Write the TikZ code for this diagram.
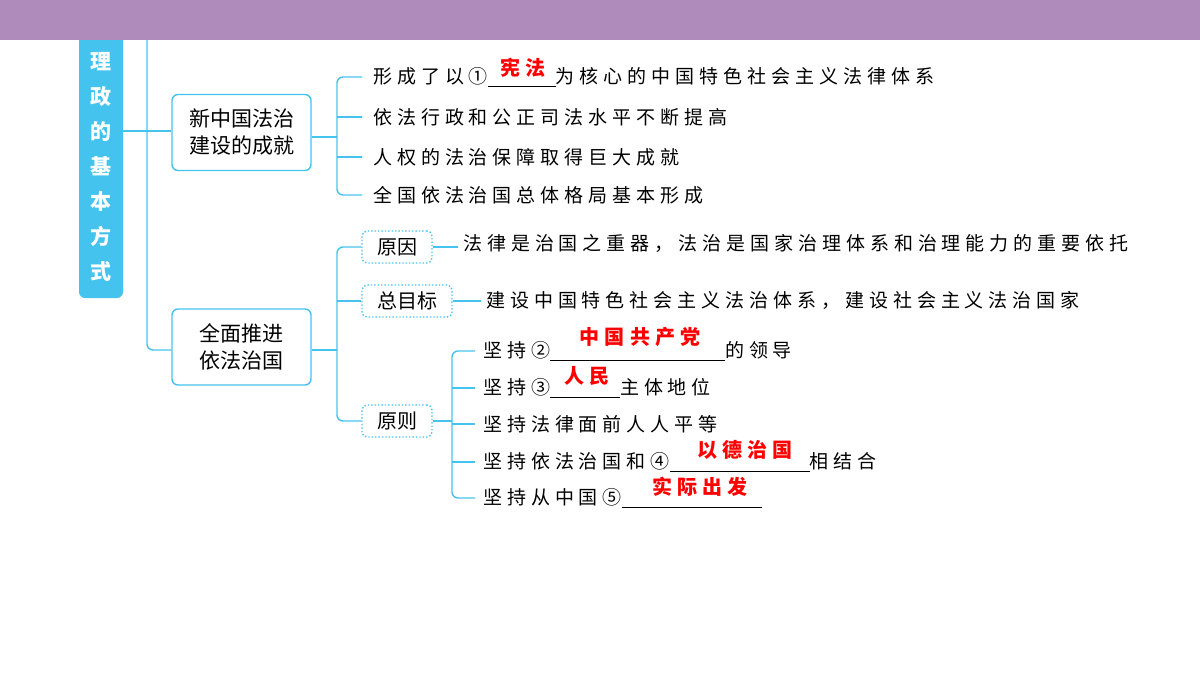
\documentclass[tikz,border=0pt]{standalone}
\usepackage{fontspec}
\setmainfont{Noto Sans CJK SC}
\newfontfamily\leaffont[LetterSpace=26]{Noto Sans CJK SC}
\usetikzlibrary{positioning}
\definecolor{lb}{HTML}{45C3EF}
\definecolor{pur}{HTML}{AE8BBB}
\tikzset{
 conn/.style={draw=lb,line width=1.4pt,rounded corners=6pt},
 mainbox/.style={draw=lb,line width=1.4pt,rounded corners=6pt,fill=white,font=\fontsize{21}{27}\selectfont,align=center,minimum width=139pt,minimum height=76pt,inner sep=0pt},
 dotbox/.style={draw=lb,line width=1.4pt,dotted,rounded corners=5pt,font=\fontsize{20}{22}\selectfont,inner sep=0pt,minimum height=32pt},
 leaf/.style={anchor=west,font=\fontsize{19}{22}\leaffont,inner sep=0pt},
 ans/.style={text=red,font=\fontsize{20}{22}\bfseries\leaffont,inner sep=0pt},
}
\newcommand{\blank}[1]{\rule[-4pt]{#1pt}{0.7pt}}
\begin{document}
\begin{tikzpicture}[x=1pt,y=-1pt]
\useasboundingbox (0,0) rectangle (1200,675);
\fill[lb,rounded corners=6pt] (79,30) rectangle (123,298);
\fill[pur] (0,0) rectangle (1200,40);
\node[text=white,font=\fontsize{21}{35}\bfseries\selectfont,align=center,inner sep=0pt] (title) at (101,167) {理\\政\\的\\基\\本\\方\\式};
% main trunk
\node[mainbox] (b1) at (241.5,132.5) {新中国法治\\建设的成就};
\node[mainbox] (b2) at (241.5,347) {全面推进\\依法治国};
\draw[conn] (147,40) -- (147,350) -- (b2.west|-0,350);
\draw[conn] (123,131) -- (b1.west|-0,131);
% b1 leaves
\node[leaf] (l1) at (373,77) {形成了以①\blank{68}为核心的中国特色社会主义法律体系};
\node[leaf] (l2) at (373,117) {依法行政和公正司法水平不断提高};
\node[leaf] (l3) at (373,157) {人权的法治保障取得巨大成就};
\node[leaf] (l4) at (373,195) {全国依法治国总体格局基本形成};
\node[ans] (a1) at (523,68) {宪法};
\draw[conn] (b1.east|-0,137) -- (337,137);
\draw[conn] (362,77) -- (337,77) -- (337,195) -- (362,195);
\draw[conn] (337,117) -- (362,117);
\draw[conn] (337,157) -- (362,157);
% b2 branches
\node[dotbox,minimum width=70pt] (r1) at (397,247) {原因};
\node[dotbox,minimum width=90pt] (r2) at (407,301) {总目标};
\node[dotbox,minimum width=70pt] (r3) at (397,421) {原则};
\draw[conn] (b2.east|-0,350) -- (337,350);
\draw[conn] (r1.west) -- (337,247) -- (337,421) -- (r3.west);
\draw[conn] (337,301) -- (r2.west);
\node[leaf] (t1) at (463,243) {法律是治国之重器，法治是国家治理体系和治理能力的重要依托};
\node[leaf] (t2) at (486,300) {建设中国特色社会主义法治体系，建设社会主义法治国家};
\draw[conn] (r1.east) -- ([xshift=-5pt]t1.west|-r1.east);
\draw[conn] (r2.east) -- ([xshift=-5pt]t2.west|-r2.east);
% principles
\node[leaf] (p1) at (483,351) {坚持②\blank{175}的领导};
\node[leaf] (p2) at (483,388) {坚持③\blank{70}主体地位};
\node[leaf] (p3) at (483,424) {坚持法律面前人人平等};
\node[leaf] (p4) at (483,462) {坚持依法治国和④\blank{140}相结合};
\node[leaf] (p5) at (483,498) {坚持从中国⑤\blank{140}};
\node[ans] (a2) at (640,337) {中国共产党};
\node[ans] (a3) at (587,376) {人民};
\node[ans] (a4) at (745,450) {以德治国};
\node[ans] (a5) at (700,487) {实际出发};
\draw[conn] (r3.east) -- (452,421);
\draw[conn] (p1.west) ++(-8,0) -- (452,351) -- (452,498) -- ([xshift=-8pt]p5.west);
\draw[conn] (452,388) -- ([xshift=-8pt]p2.west);
\draw[conn] (452,424) -- ([xshift=-8pt]p3.west);
\draw[conn] (452,462) -- ([xshift=-8pt]p4.west);
\end{tikzpicture}
\end{document}
